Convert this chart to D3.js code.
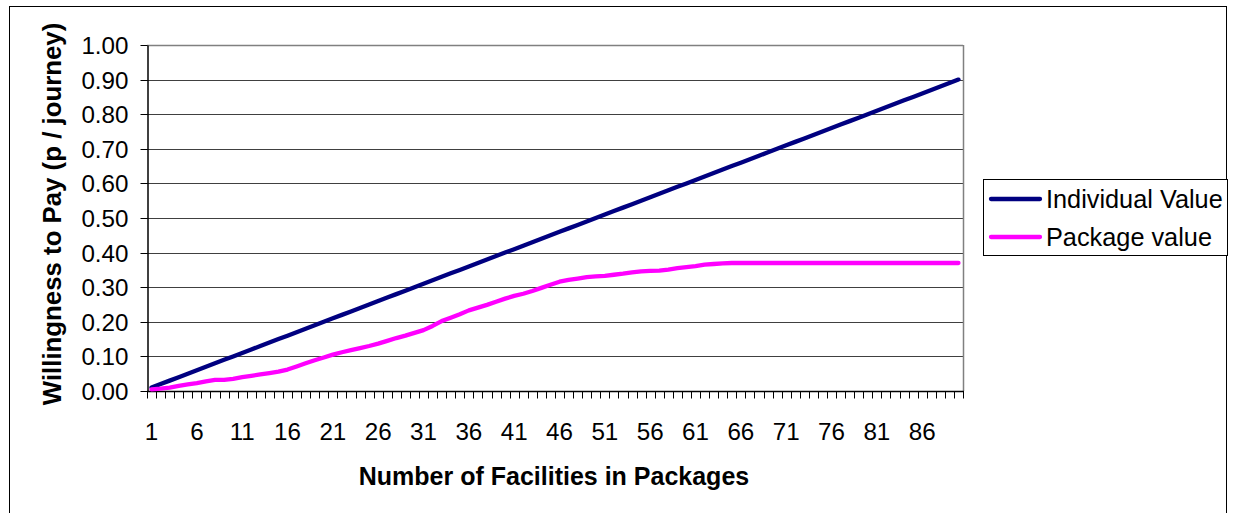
<!DOCTYPE html>
<html><head><meta charset="utf-8">
<script src="https://cdn.jsdelivr.net/npm/d3@7"></script>
<style>html,body{margin:0;padding:0;background:#fff;}svg{display:block;}</style>
</head><body>
<svg id="chart" width="1233" height="513"></svg>
<script>
const categories = [1,2,3,4,5,6,7,8,9,10,11,12,13,14,15,16,17,18,19,20,21,22,23,24,25,26,27,28,29,30,
31,32,33,34,35,36,37,38,39,40,41,42,43,44,45,46,47,48,49,50,51,52,53,54,55,56,57,58,59,60,
61,62,63,64,65,66,67,68,69,70,71,72,73,74,75,76,77,78,79,80,81,82,83,84,85,86,87,88,89,90];
const xTickLabels = [1,6,11,16,21,26,31,36,41,46,51,56,61,66,71,76,81,86];
const yTickLabels = ["0.00","0.10","0.20","0.30","0.40","0.50","0.60","0.70","0.80","0.90","1.00"];
const individualValue = [0.01,0.02,0.03,0.04,0.05,0.06,0.07,0.08,0.09,0.10,0.11,0.12,0.13,0.14,0.15,0.16,0.17,0.18,0.19,0.20,
0.21,0.22,0.23,0.24,0.25,0.26,0.27,0.28,0.29,0.30,0.31,0.32,0.33,0.34,0.35,0.36,0.37,0.38,0.39,0.40,
0.41,0.42,0.43,0.44,0.45,0.46,0.47,0.48,0.49,0.50,0.51,0.52,0.53,0.54,0.55,0.56,0.57,0.58,0.59,0.60,
0.61,0.62,0.63,0.64,0.65,0.66,0.67,0.68,0.69,0.70,0.71,0.72,0.73,0.74,0.75,0.76,0.77,0.78,0.79,0.80,
0.81,0.82,0.83,0.84,0.85,0.86,0.87,0.88,0.89,0.90];
const packageValue = [0.005,0.007,0.010,0.015,0.019,0.023,0.028,0.032,0.032,0.035,0.040,0.044,0.048,0.052,0.056,0.062,0.071,0.080,0.089,0.097,
0.105,0.112,0.118,0.124,0.130,0.137,0.145,0.153,0.160,0.168,0.176,0.188,0.202,0.212,0.222,0.233,0.241,0.249,0.258,0.267,
0.275,0.281,0.289,0.298,0.307,0.316,0.321,0.325,0.329,0.331,0.333,0.336,0.339,0.343,0.346,0.347,0.348,0.351,0.355,0.358,
0.361,0.365,0.367,0.369,0.370,0.370,0.370,0.370,0.370,0.370,0.370,0.370,0.370,0.370,0.370,0.370,0.370,0.370,0.370,0.370,
0.370,0.370,0.370,0.370,0.370,0.370,0.370,0.370,0.370,0.370];
const seriesNames = ["Individual Value","Package value"];
const seriesColors = ["#000080","#FF00FF"];

const FONT = "Arial, 'Liberation Sans', sans-serif";
const svg = d3.select("#chart");
const L = 147, R = 963, T = 45, B = 391;

// outer chart border
svg.append("rect").attr("x",9.5).attr("y",6.5).attr("width",1217).attr("height",520)
  .attr("fill","none").attr("stroke","#000").attr("stroke-width",1);

const x = d3.scaleBand().domain(categories).range([L,R]).paddingInner(0).paddingOuter(0);
const y = d3.scaleLinear().domain([0,1]).range([B,T]);
const cx = d => x(d) + x.bandwidth()/2;

// gridlines
const g = svg.append("g");
g.selectAll("line.grid").data(yTickLabels.slice(1)).join("line")
  .attr("x1",L).attr("x2",R)
  .attr("y1",d=>Math.round(y(+d))+0.5).attr("y2",d=>Math.round(y(+d))+0.5)
  .attr("stroke",d=>(+d===1)?"#808080":"#404040").attr("stroke-width",d=>(+d===1)?1.5:1);
// right border
g.append("line").attr("x1",R+0.5).attr("x2",R+0.5).attr("y1",T).attr("y2",B).attr("stroke","#808080").attr("stroke-width",1.5);

// y axis
const yAxis = d3.axisLeft(y).tickValues(yTickLabels.map(Number)).tickFormat(d3.format(".2f")).tickSizeOuter(0).tickSizeInner(7).tickPadding(12);
const ya = svg.append("g").attr("transform",`translate(${L+0.5},0)`).call(yAxis);
ya.select(".domain").attr("stroke","#000").attr("stroke-width",1.5);
ya.selectAll(".tick line").attr("stroke","#000");
ya.selectAll(".tick").attr("transform",d=>`translate(0,${Math.round(y(d))+0.5})`);
ya.selectAll("text").attr("font-family",FONT).attr("font-size",24.2).attr("fill","#000").attr("dy","0.36em");

// x axis
const xa = svg.append("g").attr("transform",`translate(0,${B+0.5})`);
xa.append("line").attr("x1",L).attr("x2",R+1).attr("stroke","#000").attr("stroke-width",1.5);
const bounds = categories.map(c=>x(c)).concat([R]);
xa.selectAll("line.tk").data(bounds).join("line").attr("class","tk")
  .attr("x1",d=>Math.round(d)+0.5).attr("x2",d=>Math.round(d)+0.5).attr("y1",0).attr("y2",7).attr("stroke","#000");
const xAxis = d3.axisBottom(x).tickValues(xTickLabels).tickSize(0).tickPadding(0);
const xg = xa.append("g").call(xAxis);
xg.select(".domain").remove();
xg.selectAll("text").attr("font-family",FONT).attr("font-size",24.2).attr("fill","#000").attr("y",48).attr("dy",0);

// lines
const line = d3.line().x((d,i)=>cx(categories[i])).y(d=>y(d));
[individualValue, packageValue].forEach((s,k)=>{
  svg.append("path").datum(s).attr("d",line).attr("fill","none")
    .attr("stroke",seriesColors[k]).attr("stroke-width",4.3).attr("stroke-linejoin","round").attr("stroke-linecap","round");
});

// axis titles
svg.append("text").attr("x",554).attr("y",485).attr("text-anchor","middle")
  .attr("font-family",FONT).attr("font-weight","bold").attr("font-size",25).text("Number of Facilities in Packages");
svg.append("text").attr("transform",`translate(61,214) rotate(-90)`).attr("text-anchor","middle")
  .attr("font-family",FONT).attr("font-weight","bold").attr("font-size",25.8).text("Willingness to Pay (p / journey)");

// legend
const lg = svg.append("g");
lg.append("rect").attr("x",983.5).attr("y",179.5).attr("width",244).attr("height",76).attr("fill","#fff").attr("stroke","#000");
seriesNames.forEach((n,k)=>{
  const yy = 199 + k*38;
  lg.append("line").attr("x1",991).attr("x2",1040).attr("y1",yy).attr("y2",yy).attr("stroke",seriesColors[k]).attr("stroke-width",4.3).attr("stroke-linecap","round");
  lg.append("text").attr("x",1046).attr("y",yy+9).attr("font-family",FONT).attr("font-size",25.3).text(n);
});
</script>
</body></html>
